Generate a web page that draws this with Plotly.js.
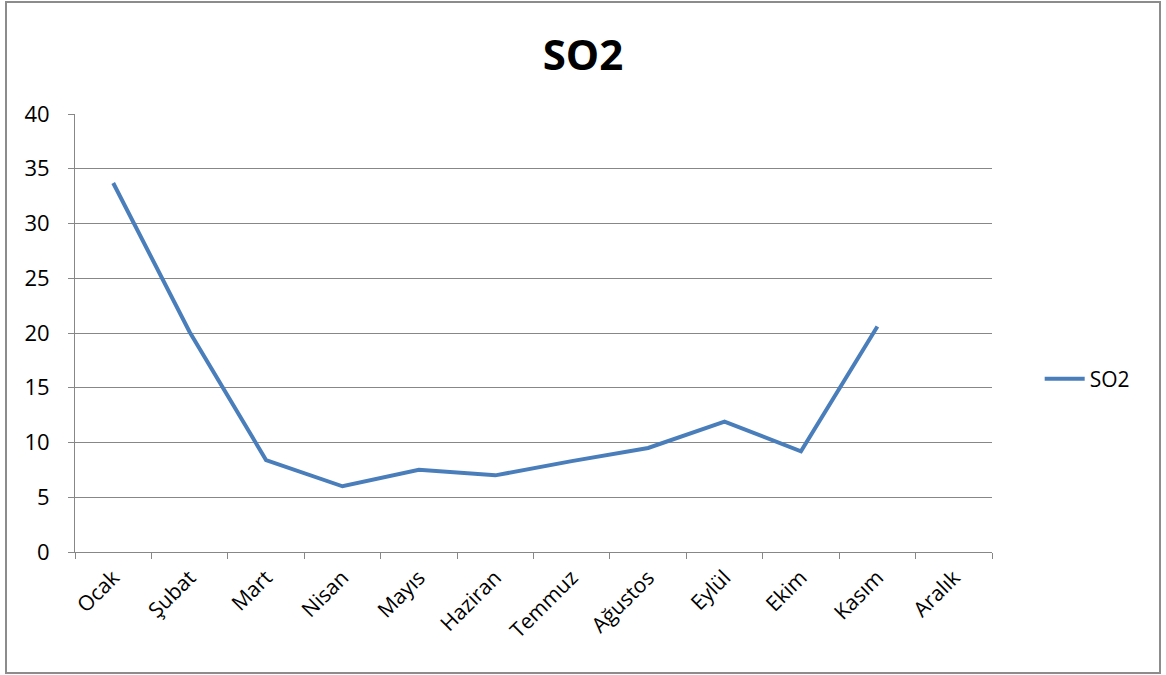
<!DOCTYPE html>
<html>
<head>
<meta charset="utf-8">
<script src="https://cdn.plot.ly/plotly-3.0.1.min.js"></script>
<style>html,body{margin:0;padding:0;background:#fff;}#chart{width:1166px;height:675px;}</style>
</head>
<body>
<div id="chart"></div>
<script>
const months = ["Ocak","Şubat","Mart","Nisan","Mayıs","Haziran","Temmuz","Ağustos","Eylül","Ekim","Kasım","Aralık"];
const so2 = [33.7, 20.1, 8.4, 6.0, 7.5, 7.0, 8.3, 9.5, 11.9, 9.2, 20.6, null];
const yTicks = [0,5,10,15,20,25,30,35,40];

const font = "Open Sans, Liberation Sans, sans-serif";
const gridColor = "#878787";

const trace = {
  x: months, y: so2, type: "scatter", mode: "lines", name: "SO2",
  line: {color: "#4A7EBB", width: 4}, connectgaps: false
};

const layout = {
  width: 1166, height: 675,
  margin: {l: 75, r: 174, t: 114, b: 123, pad: 0},
  paper_bgcolor: "#fff", plot_bgcolor: "#fff",
  title: {text: "<b>SO2</b>", x: 0.5, xref: "container", xanchor: "center", y: 1 - 55/675, yanchor: "middle", yref: "container",
          font: {family: font, size: 42, color: "#000"}},
  xaxis: {
    type: "category", range: [-0.5, 11.5], tickmode: "array", tickvals: months, ticktext: months,
    tickson: "boundaries", ticks: "outside", ticklen: 6, tickcolor: gridColor, tickwidth: 1,
    showline: true, linecolor: gridColor, linewidth: 1, showgrid: false, zeroline: false,
    tickangle: -45, tickfont: {family: font, size: 21, color: "#000"}, ticklabelstandoff: 4, fixedrange: true
  },
  yaxis: {
    range: [0, 40], tickmode: "array", tickvals: yTicks, ticks: "outside", ticklen: 6,
    tickcolor: gridColor, showline: true, linecolor: gridColor, linewidth: 1,
    showgrid: true, gridcolor: gridColor, gridwidth: 1, zeroline: false,
    tickfont: {family: font, size: 22, color: "#000"}, ticklabelstandoff: 14, fixedrange: true
  },
  showlegend: true,
  legend: {x: 1.052, xanchor: "left", y: 0.395, yanchor: "middle", bgcolor: "rgba(0,0,0,0)",
           font: {family: font, size: 21, color: "#000"}, itemwidth: 40},
  shapes: [{type: "rect", xref: "paper", yref: "paper",
            x0: (6-75)/917, x1: (1160-75)/917, y0: (552-673)/438, y1: (552-2)/438,
            line: {color: "#8c8c8c", width: 2}, fillcolor: "rgba(0,0,0,0)", layer: "below"}]
};

Plotly.newPlot("chart", [trace], layout, {displayModeBar: false, staticPlot: true});
</script>
</body>
</html>
